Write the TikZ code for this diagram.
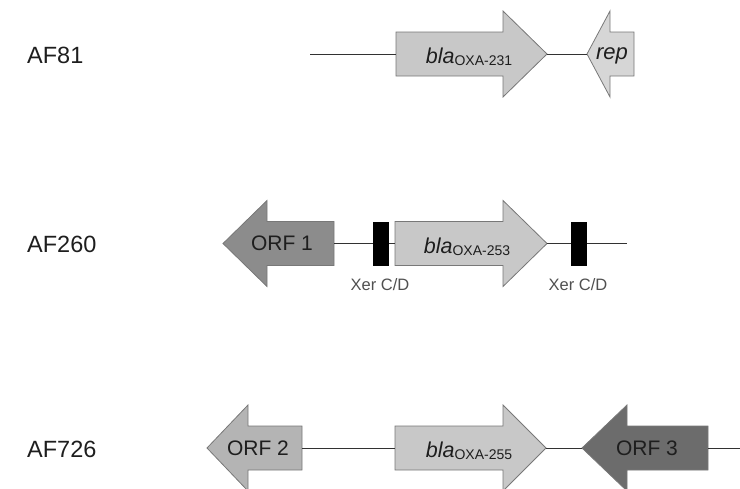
\documentclass[tikz,border=0pt]{standalone}
\usepackage{fontspec}
\setmainfont{Liberation Sans}
\definecolor{blagray}{RGB}{200,200,200}
\definecolor{repgray}{RGB}{214,214,214}
\definecolor{orfone}{RGB}{140,140,140}
\definecolor{orftwo}{RGB}{180,180,180}
\definecolor{orfthree}{RGB}{108,108,108}
\definecolor{edgegray}{RGB}{120,120,120}
\definecolor{linegray}{RGB}{50,50,50}
\definecolor{xertext}{RGB}{80,80,80}
\definecolor{txt}{RGB}{30,30,30}
\newcommand\generight[6]{%
  \draw[genestyle, fill=#6] ({#2},{#5-22}) -- ({#3},{#5-22}) -- ({#3},{#5-43}) -- ({#4},{#5}) -- ({#3},{#5+43}) -- ({#3},{#5+22}) -- ({#2},{#5+22}) -- cycle;
  \coordinate (#1-l) at ({#2},{#5});
  \coordinate (#1-r) at ({#4},{#5});}
\newcommand\geneleft[6]{%
  \draw[genestyle, fill=#6] ({#4},{#5-22}) -- ({#3},{#5-22}) -- ({#3},{#5-43}) -- ({#2},{#5}) -- ({#3},{#5+43}) -- ({#3},{#5+22}) -- ({#4},{#5+22}) -- cycle;
  \coordinate (#1-l) at ({#2},{#5});
  \coordinate (#1-r) at ({#4},{#5});}
\newcommand\blalabel[1]{{\fontsize{21.5}{21.5}\selectfont\itshape bla}\raisebox{-2.5pt}{\fontsize{14}{14}\selectfont OXA-#1}}
\begin{document}
\begin{tikzpicture}[x=1pt,y=-1pt,
  genestyle/.style={draw=edgegray, line width=0.8pt, line join=miter},
  dna/.style={draw=linegray, line width=0.9pt},
  rowlabel/.style={anchor=west, inner sep=0pt, text=txt, font=\fontsize{23.5}{23.5}\selectfont},
  genetext/.style={inner sep=0pt, text=txt, font=\fontsize{21}{21}\selectfont},
  xerbox/.style={fill=black, draw=none, minimum width=16pt, minimum height=44pt, inner sep=0pt},
  xerlabel/.style={inner sep=0pt, text=xertext, font=\fontsize{16.5}{16.5}\selectfont}]
\useasboundingbox (0,0) rectangle (740,488);
\clip (0,0) rectangle (740,488);

% Row labels
\node[rowlabel] (lab1) at (27,55) {AF81};
\node[rowlabel] (lab2) at (27,244) {AF260};
\node[rowlabel] (lab3) at (27,449) {AF726};

% Row 1: AF81
\coordinate (r1start) at (310,54);
\generight{bla1}{396}{503}{547}{54}{blagray}
\geneleft{rep}{587}{610}{634}{54}{repgray}
\draw[dna] (r1start) -- (bla1-l);
\draw[dna] (bla1-r) -- (rep-l);
\node[genetext] (bla1t) at (469,57) {\blalabel{231}};
\node[genetext, font=\fontsize{22}{22}\selectfont\itshape] (rept) at (612,56) {rep};

% Row 2: AF260
\geneleft{orf1}{223}{267}{334}{243.5}{orfone}
\generight{bla2}{395}{503}{547}{243.5}{blagray}
\node[xerbox] (x1) at (381,244) {};
\node[xerbox] (x2) at (579,244) {};
\coordinate (r2end) at (627,243.5);
\draw[dna] (orf1-r) -- (x1.west |- orf1-r);
\draw[dna] (x1.east |- bla2-l) -- (bla2-l);
\draw[dna] (bla2-r) -- (x2.west |- bla2-r);
\draw[dna] (x2.east |- r2end) -- (r2end);
\node[genetext] (orf1t) at (282,243.5) {ORF 1};
\node[genetext] (bla2t) at (467,247) {\blalabel{253}};
\node[xerlabel] (x1t) at (380,285) {Xer C/D};
\node[xerlabel] (x2t) at (578,285) {Xer C/D};

% Row 3: AF726
\geneleft{orf2}{207}{248}{302}{448}{orftwo}
\generight{bla3}{395}{503}{546}{448}{blagray}
\geneleft{orf3}{582}{627}{708}{448}{orfthree}
\coordinate (r3end) at (742,448);
\draw[dna] (orf2-r) -- (bla3-l);
\draw[dna] (bla3-r) -- (orf3-l);
\draw[dna] (orf3-r) -- (r3end);
\node[genetext] (orf2t) at (258,448) {ORF 2};
\node[genetext] (bla3t) at (469,451) {\blalabel{255}};
\node[genetext] (orf3t) at (647,448) {ORF 3};
\end{tikzpicture}
\end{document}
